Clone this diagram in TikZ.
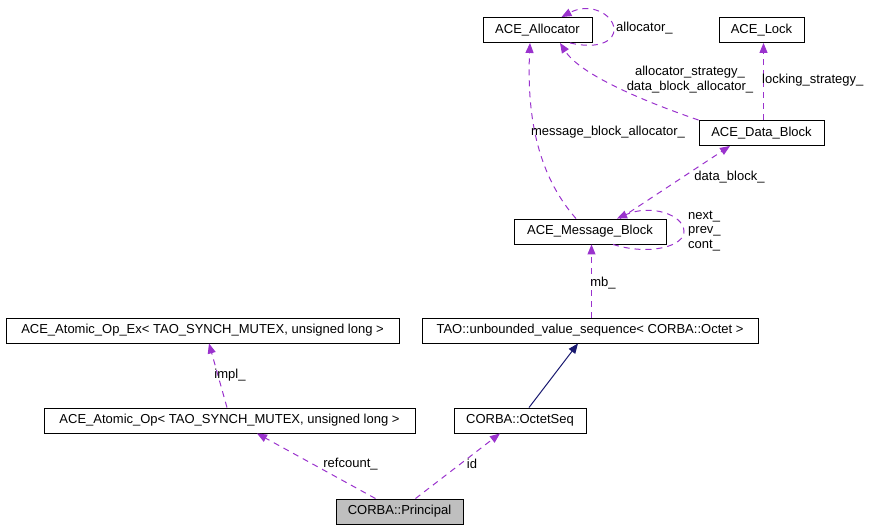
\documentclass[tikz,border=0pt]{standalone}
\usepackage{fontspec}
\setmainfont{Liberation Sans}
\usepackage{tikz}
\usetikzlibrary{arrows.meta}
\definecolor{usepurple}{RGB}{154,50,205}
\definecolor{basenavy}{RGB}{25,25,112}
\definecolor{rootgray}{RGB}{191,191,191}

\begin{document}
\begin{tikzpicture}[x=1pt, y=-1pt, font=\fontsize{13}{15}\selectfont,
    cls/.style={draw, line width=0.9pt, inner sep=0pt, minimum height=25pt},
    usage/.style={draw=usepurple, line width=1pt, dash pattern=on 6pt off 5pt,
        -{Triangle[length=10pt, width=8pt]}},
    inherit/.style={draw=basenavy, line width=1pt,
        -{Triangle[length=10pt, width=8pt]}},
    lbl/.style={inner sep=0pt}]
    \useasboundingbox (0,0) rectangle (871,529);

    % Classes
    \node[cls, minimum width=109pt] (allocator) at (537.5,30) {ACE\_Allocator};
    \node[cls, minimum width=85pt] (lock) at (761.5,30) {ACE\_Lock};
    \node[cls, minimum width=125pt] (datablock) at (761.5,133) {ACE\_Data\_Block};
    \node[cls, minimum width=152pt] (msgblock) at (590,231.5) {ACE\_Message\_Block};
    \node[cls, minimum width=336pt] (tao) at (590,330.5) {TAO::unbounded\_value\_sequence< CORBA::Octet >};
    \node[cls, minimum width=393pt] (atomicopex) at (202.5,330.5) {ACE\_Atomic\_Op\_Ex< TAO\_SYNCH\_MUTEX, unsigned long >};
    \node[cls, minimum width=371pt] (atomicop) at (229.5,420.5) {ACE\_Atomic\_Op< TAO\_SYNCH\_MUTEX, unsigned long >};
    \node[cls, minimum width=132pt] (octetseq) at (520,420.5) {CORBA::OctetSeq};
    \node[cls, fill=rootgray, minimum width=127pt] (principal) at (399.5,511.5) {CORBA::Principal};

    % Members
    \draw[usage] ([xshift=-24pt]principal.north) -- ([xshift=27.5pt]atomicop.south);
    \node[lbl] (refcountlbl) at (350.5,464) {refcount\_};
    \draw[usage] ([xshift=16pt]principal.north) -- ([xshift=-20pt]octetseq.south);
    \node[lbl] (idlbl) at (472,464) {id};
    \draw[usage] ([xshift=-2.5pt]atomicop.north) -- ([xshift=6.5pt]atomicopex.south);
    \node[lbl] (impllbl) at (230,375) {impl\_};
    \draw[usage] ([xshift=1.5pt]tao.north) -- ([xshift=1.5pt]msgblock.south);
    \node[lbl] (mblbl) at (603,283) {mb\_};
    \draw[usage] ([xshift=30pt]msgblock.north) -- ([xshift=-31.5pt]datablock.south);
    \node[lbl] (datablocklbl) at (729.5,177) {data\_block\_};
    \draw[usage] ([xshift=23pt]msgblock.south) .. controls (650,256) and (685,246) .. (684,231)
        .. controls (683,214) and (650,204) .. ([xshift=27pt]msgblock.north);
    \node[lbl, anchor=west, align=left, font=\fontsize{13}{14.5}\selectfont] (linklbl) at (688,231) {next\_\\prev\_\\cont\_};
    \draw[usage] ([xshift=2pt]datablock.north) -- ([xshift=2pt]lock.south);
    \node[lbl, anchor=west] (locklbl) at (762,80) {locking\_strategy\_};
    \draw[usage] (datablock.north west) .. controls (640,100) and (580,74) .. ([xshift=22.5pt]allocator.south);
    \node[lbl, align=center] (strategylbl) at (690,80) {allocator\_strategy\_\\data\_block\_allocator\_};
    \draw[usage] ([xshift=-14pt]msgblock.north) .. controls (535,172) and (527,110) .. ([xshift=-7.5pt]allocator.south);
    \node[lbl] (mballoclbl) at (608,132) {message\_block\_allocator\_};
    \draw[usage] ([xshift=32.5pt]allocator.south) .. controls (600,50) and (615,40) .. (614,29)
        .. controls (613,14) and (590,2) .. ([xshift=24pt]allocator.north);
    \node[lbl, anchor=west] (alloclbl) at (616,28) {allocator\_};

    % Base class
    \draw[inherit] ([xshift=9pt]octetseq.north) -- ([xshift=-12pt]tao.south);
\end{tikzpicture}
\end{document}
